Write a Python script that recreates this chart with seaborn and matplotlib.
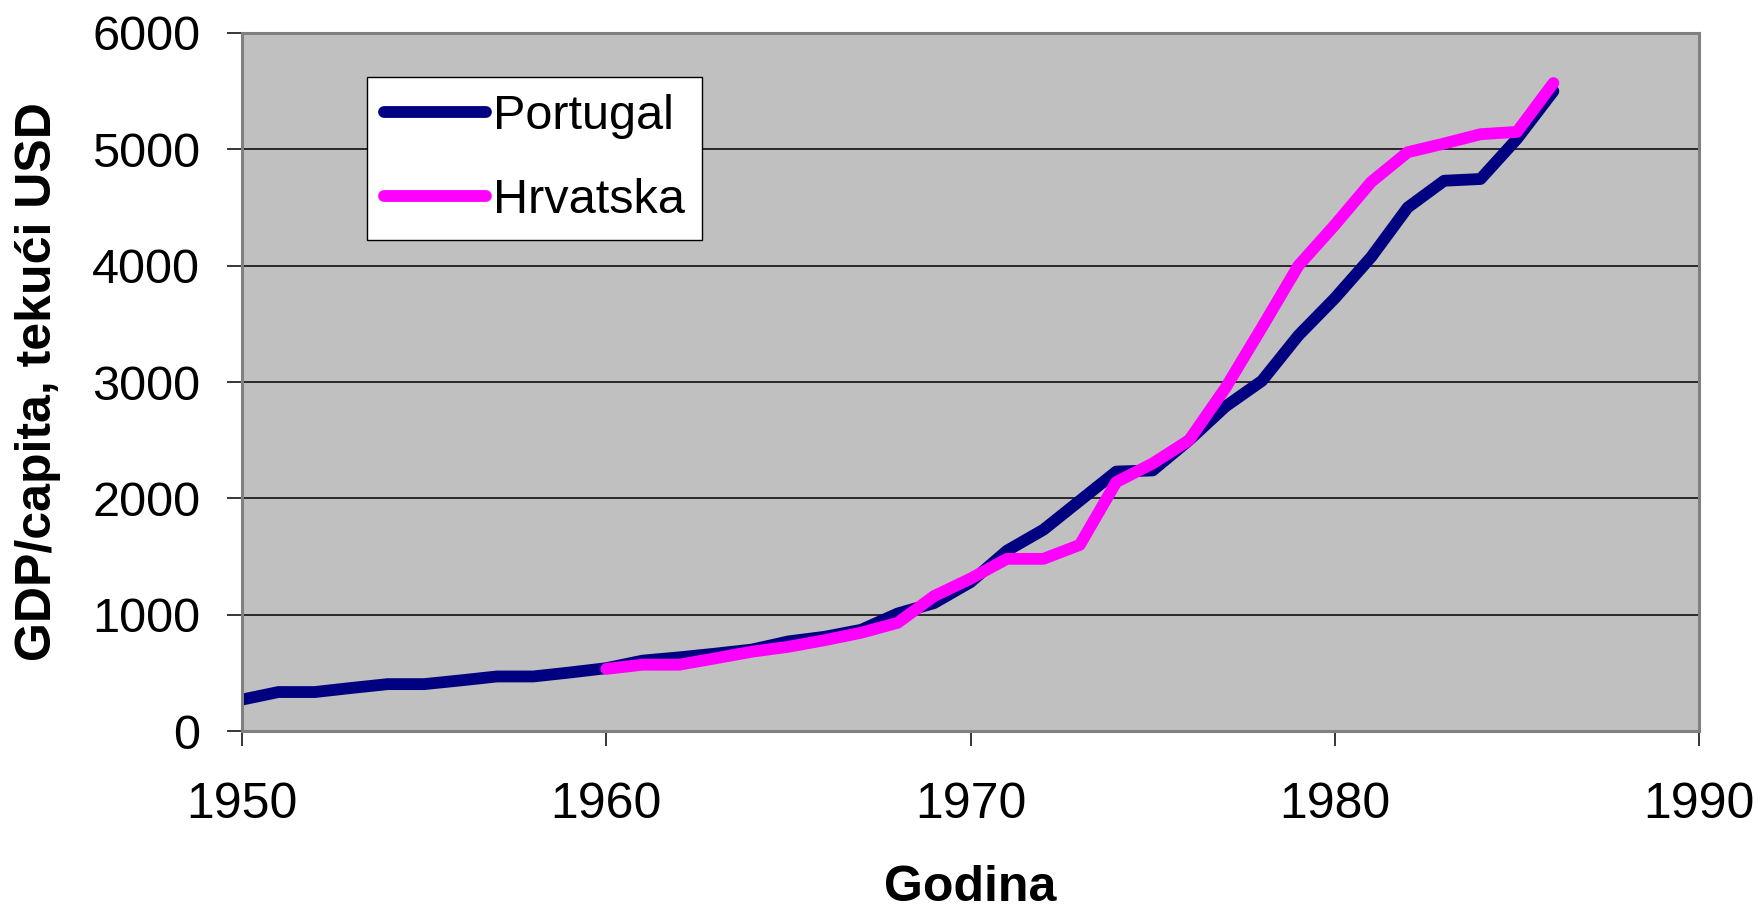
import numpy as np
import pandas as pd
import matplotlib
matplotlib.use("Agg")
import matplotlib.pyplot as plt
import seaborn as sns

# Data
years_pt = list(range(1950, 1987))
gdp_pt = [270, 335, 335, 370, 403, 403, 435, 469, 469, 503,
          540, 605, 633, 665, 700, 770, 810, 870, 1010, 1100,
          1280, 1550, 1730, 1980, 2230, 2240, 2500, 2790, 3010, 3400,
          3720, 4075, 4500, 4730, 4745, 5090, 5500]

years_hr = list(range(1960, 1987))
gdp_hr = [534, 570, 570, 625, 682, 724, 781, 845, 930, 1160,
          1310, 1480, 1480, 1600, 2140, 2300, 2500, 2950, 3470, 4000,
          4350, 4720, 4975, 5050, 5130, 5150, 5570]

countries = ["Portugal", "Hrvatska"]
colors = ["#000080", "#FF00FF"]

x_ticks = [1950, 1960, 1970, 1980, 1990]
y_ticks = [0, 1000, 2000, 3000, 4000, 5000, 6000]

df = pd.concat([
    pd.DataFrame({"Godina": years_pt, "GDP": gdp_pt, "Zemlja": countries[0]}),
    pd.DataFrame({"Godina": years_hr, "GDP": gdp_hr, "Zemlja": countries[1]}),
])

sns.set_style("white")
plt.rcParams["font.family"] = ["Liberation Sans", "DejaVu Sans"]
plt.rcParams["text.color"] = "black"
plt.rcParams["axes.labelcolor"] = "black"
plt.rcParams["xtick.color"] = "black"
plt.rcParams["ytick.color"] = "black"

fig = plt.figure(figsize=(17.56, 9.14), dpi=100)
ax = fig.add_axes([0.1378, 0.2002, 0.8298, 0.7637])
ax.set_facecolor("#C0C0C0")

sns.lineplot(data=df, x="Godina", y="GDP", hue="Zemlja",
             hue_order=countries, palette=colors, linewidth=8.5,
             solid_capstyle="round", ax=ax)

ax.set_xlim(1950, 1990)
ax.set_ylim(0, 6000)
ax.set_xticks(x_ticks)
ax.set_yticks(y_ticks)
ax.yaxis.grid(True, color="black", linewidth=1.1)
ax.xaxis.grid(False)
ax.set_axisbelow(True)

for s in ax.spines.values():
    s.set_visible(True)
    s.set_color("#808080")
    s.set_linewidth(2.2)

ax.tick_params(axis="y", direction="out", length=11, width=1.1,
               color="black", labelcolor="black", pad=19, labelsize=35, left=True)
ax.tick_params(axis="x", direction="out", length=11, width=1.1,
               color="black", labelcolor="black", pad=26, labelsize=36, bottom=True)

ax.set_xlabel("Godina", fontsize=36, fontweight="bold", color="black")
ax.set_ylabel("GDP/capita, tekući USD", fontsize=36, fontweight="bold", color="black")
ax.xaxis.set_label_coords(0.5, -0.192)
ax.yaxis.set_label_coords(-0.124, 0.5)

leg = ax.legend(loc="upper left", bbox_to_anchor=(0.0858, 0.937),
                borderaxespad=0, fontsize=35, frameon=True, fancybox=False,
                handlelength=2.1, handletextpad=0.15, labelspacing=0.81,
                borderpad=0.35, title=None)
leg.get_frame().set_edgecolor("black")
leg.get_frame().set_linewidth(1.0)
leg.get_frame().set_facecolor("white")
leg.get_frame().set_alpha(1)
for line in leg.get_lines():
    line.set_linewidth(8.5)
    line.set_solid_capstyle("round")
for t in leg.get_texts():
    t.set_color("black")

fig.savefig("out.png", dpi=100, facecolor="white")
